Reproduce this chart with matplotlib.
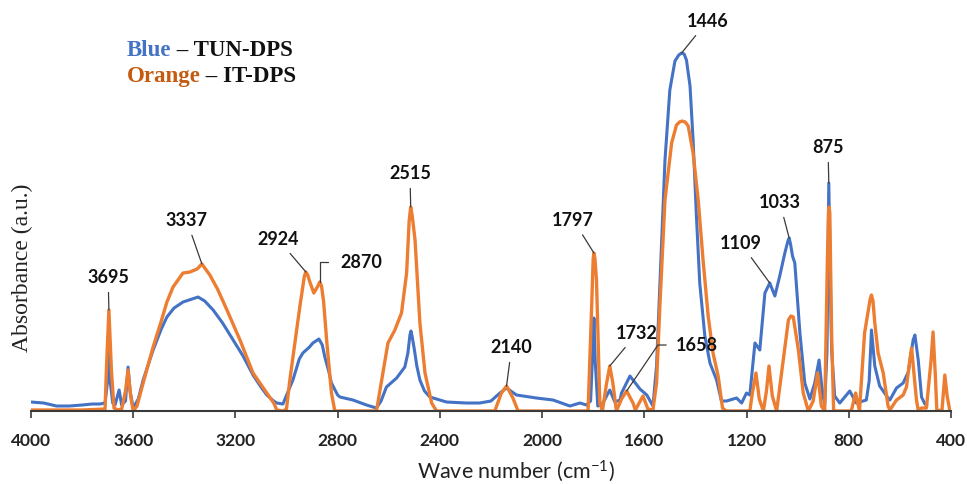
import matplotlib.pyplot as plt
import numpy as np

plt.rcParams['font.family'] = ['Lato', 'DejaVu Sans']
plt.rcParams['mathtext.default'] = 'regular'

# FTIR spectra (wave number in cm-1, absorbance in arbitrary units)
blue_wn = [4000, 3950, 3900, 3850, 3800, 3760, 3730, 3710, 3700, 3695, 3690, 3680, 3671,
           3655, 3645, 3630, 3620, 3612, 3600, 3580, 3561, 3522, 3490, 3468, 3440, 3405,
           3370, 3346, 3320, 3287, 3250, 3209, 3170, 3131, 3100, 3077, 3050, 3038, 3014,
           2975, 2950, 2936, 2910, 2897, 2873, 2860, 2850, 2835, 2824, 2800, 2791, 2740,
           2687, 2648, 2630, 2609, 2569, 2537, 2525, 2517, 2513, 2508, 2500, 2490, 2478,
           2460, 2439, 2374, 2296, 2244, 2200, 2165, 2139, 2100, 2022, 1957, 1891, 1852,
           1826, 1810, 1800, 1797, 1792, 1782, 1762, 1735, 1715, 1695, 1689, 1656, 1617,
           1590, 1566, 1552, 1536, 1519, 1500, 1480, 1465, 1454, 1444, 1435, 1421, 1409,
           1396, 1383, 1363, 1343, 1317, 1298, 1278, 1239, 1219, 1200, 1187, 1167, 1148,
           1128, 1109, 1089, 1070, 1050, 1038, 1033, 1027, 1020, 1011, 991, 972, 952, 933,
           916, 903, 894, 885, 878, 870, 867, 855, 835, 796, 770, 731, 720, 711, 698, 679,
           646, 639, 613, 587, 567, 548, 541, 528, 515, 502, 496]
blue_abs = [9, 8, 5, 5, 6, 7, 7, 8, 30, 74, 30, 8, 6,
            21, 6, 10, 44, 20, 3, 12, 31, 61, 82, 94, 103, 109,
            112, 114, 110, 101, 88, 71, 55, 36, 24, 16, 10, 8, 7,
            31, 52, 58, 64, 68, 72, 66, 54, 40, 28, 16, 14, 11,
            6, 3, 10, 24, 33, 44, 58, 76, 80, 74, 62, 45, 31,
            20, 14, 9, 8, 8, 10, 18, 23, 16, 13, 11, 5, 8,
            6, 10, 70, 93, 50, 5, 8, 21, 9, 11, 18, 35, 22,
            16, 5, 45, 144, 251, 321, 350, 356, 358, 357, 351, 325, 271,
            195, 128, 75, 48, 31, 10, 10, 13, 8, 18, 16, 68, 61,
            118, 128, 115, 135, 158, 170, 173, 166, 155, 148, 78, 28, 12, 28,
            51, 18, 7, 60, 228, 100, 61, 15, 8, 20, 8, 11, 30, 81, 45, 25,
            13, 11, 23, 28, 39, 71, 76, 51, 14, 7, 6]

orange_wn = [4000, 3900, 3800, 3710, 3705, 3695, 3685, 3675, 3660, 3645, 3630, 3620, 3610,
             3600, 3585, 3561, 3522, 3490, 3468, 3444, 3405, 3378, 3350, 3331, 3300, 3270,
             3233, 3182, 3131, 3077, 3050, 3038, 3014, 3000, 2987, 2948, 2930, 2924, 2917,
             2910, 2893, 2877, 2870, 2863, 2855, 2843, 2824, 2811, 2648, 2623, 2603, 2576,
             2550, 2530, 2520, 2514, 2508, 2497, 2478, 2458, 2432, 2413, 2185, 2159, 2139,
             2114, 2094, 1820, 1806, 1800, 1797, 1793, 1787, 1774, 1764, 1748, 1735, 1723,
             1709, 1689, 1669, 1644, 1635, 1605, 1586, 1566, 1552, 1539, 1519, 1493, 1474,
             1462, 1452, 1440, 1428, 1409, 1389, 1370, 1350, 1331, 1311, 1294, 1280, 1187,
             1177, 1163, 1150, 1134, 1122, 1112, 1099, 1082, 1056, 1036, 1026, 1017, 997,
             978, 958, 939, 922, 907, 894, 884, 879, 877, 874, 867, 859, 790, 773, 758,
             738, 716, 711, 705, 698, 685, 665, 646, 639, 613, 587, 574, 561, 554, 535,
             528, 515, 496, 478, 470, 462, 455, 435, 424, 415, 404, 400]
orange_abs = [1, 1, 1, 2, 40, 101, 40, 3, 1, 2, 20, 41, 15,
              0, 5, 28, 64, 90, 109, 124, 138, 139, 142, 147, 136, 122,
              101, 71, 38, 18, 8, 1, 0, 2, 31, 104, 135, 139, 136,
              130, 118, 125, 129, 125, 110, 71, 18, 0, 0, 38, 68, 81,
              98, 138, 190, 204, 195, 171, 88, 38, 8, 0, 0, 18, 25,
              13, 0, 0, 104, 152, 158, 152, 131, 8, 0, 27, 45, 28,
              0, 12, 20, 8, 1, 15, 2, 1, 28, 105, 211, 268, 286,
              289, 290, 289, 285, 258, 211, 151, 95, 58, 35, 3, 0, 0,
              18, 38, 12, 0, 20, 45, 15, 0, 51, 91, 95, 94, 61,
              18, 0, 10, 38, 5, 0, 145, 198, 204, 198, 78, 0, 0, 18, 0,
              78, 112, 116, 110, 88, 58, 38, 5, 1, 11, 16, 24, 51, 63, 11,
              1, 3, 3, 50, 79, 40, 0, 1, 36, 15, 0, 0]

# peak labels: value, series it points to, text position (wn, abs)
peak_values = [3695, 3337, 2924, 2870, 2515, 2140, 1797, 1732, 1658, 1446, 1109, 1033, 875]
peak_series = ['o', 'o', 'o', 'o', 'o', 'o', 'o', 'o', 'o', 'b', 'b', 'b', 'b']
label_pos = [(3698, 134), (3391, 191), (3034, 172), (2706, 149), (2517, 238), (2119, 64),
             (1878, 191), (1628, 78), (1394, 66), (1353, 390), (1223, 168), (1070, 209),
             (881, 264)]

BLUE = '#4472C4'
ORANGE = '#ED7D31'

fig = plt.figure(figsize=(9.67, 4.84), dpi=100)
ax = fig.add_axes([0.032, 0.1508, 0.9514, 0.8264])

ax.plot(blue_wn, blue_abs, color=BLUE, lw=2.2, solid_joinstyle='round')
ax.plot(orange_wn, orange_abs, color=ORANGE, lw=2.4, solid_joinstyle='round')

ax.set_xlim(4000, 400)
ax.set_ylim(0, 400)
ax.set_xticks(np.arange(4000, 399, -400))
ax.set_yticks([])
for s in ['top', 'right', 'left']:
    ax.spines[s].set_visible(False)
ax.spines['bottom'].set_color('#3a3a3a')
ax.spines['bottom'].set_linewidth(1.5)
ax.tick_params(axis='x', direction='out', length=5, width=1.2, color='#3a3a3a',
               pad=11, labelsize=12.5, labelcolor='#222222')
for lab in ax.get_xticklabels():
    lab.set_fontweight('bold')

ax.set_xlabel('Wave number (cm$^{-1}$)', fontsize=15.5, color='#222222')
ax.xaxis.set_label_coords(0.527, -0.118)
fig.text(22 / 967, 1 - 268 / 484, 'Absorbance (a.u.)', rotation=90, ha='center',
         va='center', fontsize=17, family='Liberation Serif', color='#222222')

series = {'b': (np.array(blue_wn), np.array(blue_abs)),
          'o': (np.array(orange_wn), np.array(orange_abs))}
for val, key, pos in zip(peak_values, peak_series, label_pos):
    wn, ab = series[key]
    near = np.abs(wn - val) <= 12
    i = np.flatnonzero(near)[np.argmax(ab[near])]
    arrow = dict(arrowstyle='-', color='#3a3a3a', lw=0.9, shrinkA=3, shrinkB=0)
    if val == 2870:
        arrow.update(connectionstyle='angle,angleA=0,angleB=90,rad=0', relpos=(0, 0.5), shrinkA=7)
    elif val == 1658:
        arrow.update(connectionstyle='angle,angleA=0,angleB=55.8,rad=0', relpos=(0, 0.5), shrinkA=5)
    ax.annotate(str(val), xy=(wn[i], ab[i]), xytext=pos, ha='center', va='center',
                fontsize=13, fontweight='bold', color='#111111', arrowprops=arrow)

legend_font = dict(fontsize=16.5, fontweight='bold', family='Liberation Serif')
t1 = ax.text(0.104, 0.9025, 'Blue', transform=ax.transAxes, va='center', color=BLUE, **legend_font)
ax.annotate(' \u2013 TUN-DPS', xy=(1, 0), xycoords=t1, va='bottom', color='#111111', **legend_font)
t2 = ax.text(0.104, 0.8375, 'Orange', transform=ax.transAxes, va='center', color='#C55A11', **legend_font)
ax.annotate(' \u2013 IT-DPS', xy=(1, 0), xycoords=t2, va='bottom', color='#111111', **legend_font)

plt.savefig('out.png', dpi=100)
